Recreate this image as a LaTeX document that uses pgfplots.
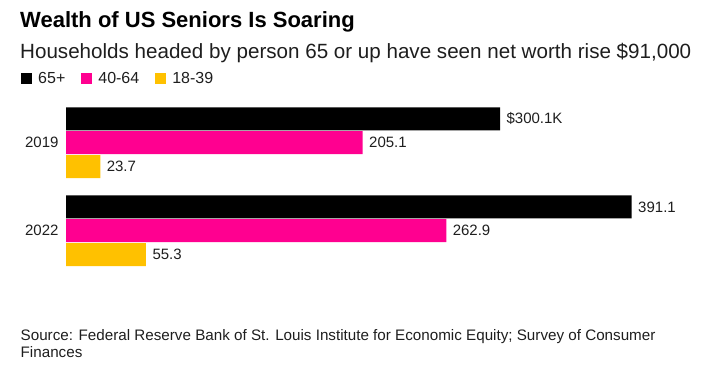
\documentclass[border=0pt]{standalone}
\usepackage{pgfplots}
\pgfplotsset{compat=1.18}
\usepackage{fontspec}
\setmainfont{Liberation Sans}
\definecolor{bmag}{RGB}{255,0,144}
\definecolor{byel}{RGB}{255,193,0}
\definecolor{txt}{RGB}{30,30,30}
\begin{document}
\begin{tikzpicture}[x=1pt,y=1pt]
\path[use as bounding box] (0,0) rectangle (712,-376);
\node[anchor=base west, inner sep=0] at (20,-27) {\bfseries\fontsize{22}{26}\selectfont Wealth of US Seniors Is Soaring};
\node[anchor=base west, inner sep=0, text=txt] at (20,-58) {\fontsize{20.6}{24}\selectfont Households headed by person 65 or up have seen net worth rise \$91,000};
\node[anchor=base west, inner sep=0, text=txt] at (20.5,-340) {\fontsize{15.2}{18}\selectfont Source: Federal Reserve Bank of St. Louis Institute for Economic Equity; Survey of Consumer};
\node[anchor=base west, inner sep=0, text=txt] at (20.5,-357.5) {\fontsize{15.2}{18}\selectfont Finances};
\begin{axis}[
  at={(66pt,-280pt)}, anchor=south west,
  scale only axis, width=565.7pt, height=180pt,
  xmin=0, xmax=391.1, ymin=-280, ymax=-100,
  hide x axis,
  axis y line*=left,
  y axis line style={draw=none},
  ytick={-142.5,-230.5}, yticklabels={2019,2022},
  major tick length=0pt,
  yticklabel style={font=\fontsize{15}{18}\selectfont, text=txt, xshift=-4pt},
  xbar, bar width=23, bar shift=0pt,
  clip=false,
  nodes near coords,
  point meta=explicit symbolic,
  every node near coord/.append style={anchor=west, font=\fontsize{15}{18}\selectfont, text=txt, xshift=3pt},
  legend columns=3,
  legend style={at={(-0.0795,1.1183)}, anchor=west, draw=none, fill=none, inner sep=0pt,
    font=\fontsize{16}{18}\selectfont, text=txt,
    /tikz/every odd column/.append style={column sep=6pt},
    /tikz/every even column/.append style={column sep=16pt},
    nodes={inner sep=0pt}},
  legend image code/.code={\fill[#1] (0pt,-5.5pt) rectangle (11pt,5.5pt);},
]
\addplot[fill=black, draw=none] coordinates {(300.1,-118.85) [\$300.1K] (391.1,-206.9) [391.1]};
\addplot[fill=bmag, draw=none] coordinates {(205.1,-142.5) [205.1] (262.9,-230.5) [262.9]};
\addplot[fill=byel, draw=none] coordinates {(23.7,-166.5) [23.7] (55.3,-254.5) [55.3]};
\legend{65+,40-64,18-39}
\end{axis}
\end{tikzpicture}
\end{document}
